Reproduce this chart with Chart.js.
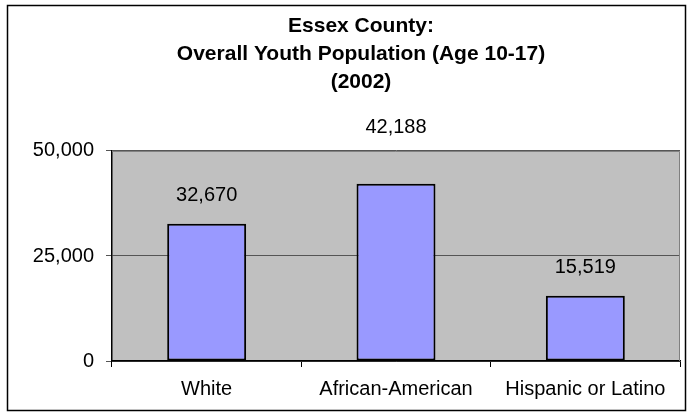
<!DOCTYPE html>
<html>
<head>
<meta charset="utf-8">
<script src="https://cdn.jsdelivr.net/npm/chart.js@4"></script>
<style>
html,body{margin:0;padding:0;background:#fff;}
#wrap{width:692px;height:417px;position:relative;}
</style>
</head>
<body>
<div id="wrap"><canvas id="c" width="692" height="417"></canvas></div>
<script>
const titleLines = ["Essex County:", "Overall Youth Population (Age 10-17)", "(2002)"];
const categories = ["White", "African-American", "Hispanic or Latino"];
const population = [32670, 42188, 15519];
const yTicks = [0, 25000, 50000];

const fmt = v => v.toLocaleString('en-US');

const framePlugin = {
  id: 'frame',
  afterLayout(chart) {
    // centre the title block the way the reference does (slightly right of the frame centre)
    if (chart.titleBlock) {
      chart.titleBlock.left = 42;
      chart.titleBlock.right = 680;
    }
  },
  beforeDraw(chart) {
    const ctx = chart.ctx, a = chart.chartArea;
    ctx.save();
    ctx.fillStyle = '#ffffff';
    ctx.fillRect(0, 0, chart.width, chart.height);
    ctx.strokeStyle = '#000';
    ctx.lineWidth = 1.5;
    ctx.strokeRect(7.5, 5.5, 678, 405);
    ctx.fillStyle = '#C0C0C0';
    ctx.fillRect(a.left, a.top, a.right - a.left, a.bottom - a.top);
    ctx.restore();
  },
  afterDatasetsDraw(chart) {
    const ctx = chart.ctx, a = chart.chartArea;
    ctx.save();
    ctx.strokeStyle = '#808080';
    ctx.lineWidth = 1;
    ctx.beginPath();
    ctx.moveTo(a.left, a.top + 0.5);
    ctx.lineTo(a.right - 0.5, a.top + 0.5);
    ctx.lineTo(a.right - 0.5, a.bottom);
    ctx.stroke();
    ctx.restore();
  }
};

const labelPlugin = {
  id: 'valueLabels',
  afterDatasetsDraw(chart, args, opts) {
    const ctx = chart.ctx;
    const meta = chart.getDatasetMeta(0);
    ctx.save();
    ctx.font = '20px "Liberation Sans", Arial, sans-serif';
    ctx.fillStyle = '#000';
    ctx.textAlign = 'center';
    ctx.textBaseline = 'middle';
    meta.data.forEach((bar, i) => {
      const off = opts.offsets[i];
      ctx.fillText(fmt(chart.data.datasets[0].data[i]), bar.x, bar.y - off);
    });
    ctx.restore();
  }
};

new Chart(document.getElementById('c'), {
  type: 'bar',
  data: {
    labels: categories,
    datasets: [{
      data: population,
      backgroundColor: '#9999FF',
      borderColor: '#000000',
      borderWidth: 2,
      borderSkipped: false,
      barPercentage: 0.417,
      categoryPercentage: 1.0
    }]
  },
  options: {
    responsive: false,
    animation: false,
    devicePixelRatio: 1,
    layout: { padding: { left: 0, right: 12, top: 0, bottom: 0 } },
    plugins: {
      legend: { display: false },
      tooltip: { enabled: false },
      title: {
        display: true,
        text: titleLines,
        color: '#000',
        font: { family: '"Liberation Sans", Arial, sans-serif', size: 21, weight: 'bold', lineHeight: 1.333 },
        padding: { top: 12, bottom: 55 }
      },
      valueLabels: { offsets: [28, 56, 28] }
    },
    scales: {
      x: {
        offset: true,
        grid: { display: true, drawOnChartArea: false, drawTicks: true, tickLength: 6, color: '#000', offset: true },
        border: { display: true, color: '#000', width: 1.5 },
        ticks: { color: '#000', font: { family: '"Liberation Sans", Arial, sans-serif', size: 20 }, padding: 10, maxRotation: 0, autoSkip: false },
        afterFit: s => { s.height = 56; }
      },
      y: {
        min: 0,
        max: 50000,
        afterBuildTicks: s => { s.ticks = yTicks.map(v => ({ value: v })); },
        grid: { color: '#555555', lineWidth: 1, tickLength: 6, drawTicks: true },
        border: { display: true, color: '#000', width: 1.5 },
        ticks: { color: '#000', font: { family: '"Liberation Sans", Arial, sans-serif', size: 20 }, padding: 12, callback: v => fmt(v) },
        afterFit: s => { s.width = 112; }
      }
    }
  },
  plugins: [framePlugin, labelPlugin]
});
</script>
</body>
</html>
